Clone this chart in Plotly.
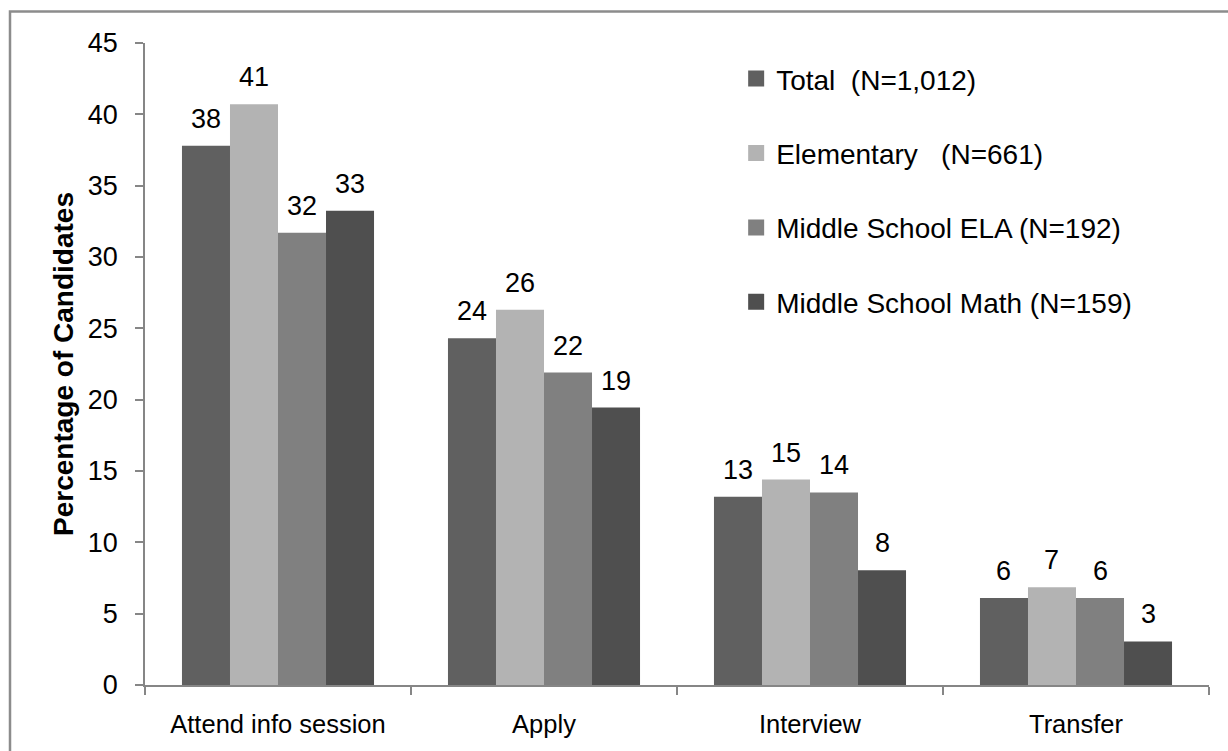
import plotly.graph_objects as go

categories = ["Attend info session", "Apply", "Interview", "Transfer"]
series_names = ["Total  (N=1,012)", "Elementary   (N=661)", "Middle School ELA (N=192)", "Middle School Math (N=159)"]
total = [37.8, 24.3, 13.2, 6.1]
elementary = [40.7, 26.3, 14.4, 6.85]
ms_ela = [31.7, 21.9, 13.5, 6.1]
ms_math = [33.25, 19.45, 8.05, 3.05]
labels_total = ["38", "24", "13", "6"]
labels_elem = ["41", "26", "15", "7"]
labels_ela = ["32", "22", "14", "6"]
labels_math = ["33", "19", "8", "3"]
y_ticks = [0, 5, 10, 15, 20, 25, 30, 35, 40, 45]

values = [total, elementary, ms_ela, ms_math]
labels = [labels_total, labels_elem, labels_ela, labels_math]
colors = ["#606060", "#b3b3b3", "#808080", "#4f4f4f"]
FONT = "Liberation Sans, Arial, sans-serif"
FS = 27

fig = go.Figure()
for i, (name, vals) in enumerate(zip(series_names, values)):
    fig.add_trace(go.Bar(
        x=categories, y=vals, name=name, marker=dict(color=colors[i], line=dict(width=0)),
        showlegend=False, hoverinfo="skip"))
    # legend entry with bigger square
    fig.add_trace(go.Scatter(
        x=[None], y=[None], mode="markers", name=name, legendgroup=f"g{i}",
        marker=dict(symbol="square", size=16, color=colors[i]), showlegend=True))

# data labels
W = (1209 - 145) / 4
bw = W * (1 - 0.278) / 4
for i in range(4):
    xs = (i - 1.5) * bw
    for c, v, t in zip(categories, values[i], labels[i]):
        fig.add_annotation(x=c, y=v, text=t, showarrow=False, xshift=xs, yshift=27,
                           yanchor="middle", font=dict(size=FS, color="black", family=FONT))

# outer border
fig.add_shape(type="rect", xref="paper", yref="paper",
              x0=(10 - 145) / 1064, x1=1.05, y0=-0.15, y1=(685 - 11.5) / 642,
              line=dict(color="#8c8c8c", width=2.5), fillcolor="rgba(0,0,0,0)", layer="below")

fig.update_layout(
    width=1228, height=751,
    margin=dict(l=145, r=19, t=43, b=66),
    paper_bgcolor="white", plot_bgcolor="white",
    barmode="group", bargap=0.278, bargroupgap=0,
    font=dict(family=FONT, size=FS, color="black"),
    showlegend=True,
    legend=dict(x=0.5556, y=0.983, xanchor="left", yanchor="top",
                font=dict(size=28, family=FONT, color="black"),
                tracegroupgap=35, bgcolor="rgba(0,0,0,0)"),
    xaxis=dict(showline=True, linecolor="#868686", linewidth=1.5,
               ticks="outside", ticklen=8, tickcolor="#868686", tickwidth=1.5,
               tickson="boundaries", ticklabelstandoff=16,
               tickfont=dict(size=25.5, family=FONT, color="black"),
               showgrid=False, zeroline=False),
    yaxis=dict(range=[0, 45], tickvals=y_ticks, showline=True, linecolor="#868686", linewidth=1.5,
               ticks="outside", ticklen=8, tickcolor="#868686", tickwidth=1.5,
               ticklabelstandoff=12,
               tickfont=dict(size=FS, family=FONT, color="black"),
               showgrid=False, zeroline=False,
               title=dict(text="<b>Percentage of Candidates</b>", standoff=6,
                          font=dict(size=28, family=FONT, color="black"))),
)

fig.write_html("out.html")
